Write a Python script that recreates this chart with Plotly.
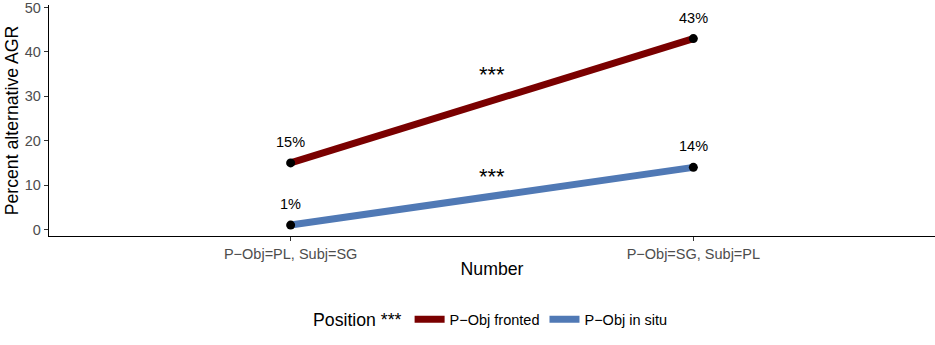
import plotly.graph_objects as go

categories = ["P\u2212Obj=PL, Subj=SG", "P\u2212Obj=SG, Subj=PL"]
series_names = ["P\u2212Obj fronted", "P\u2212Obj in situ"]
fronted = [15, 43]
in_situ = [1, 14]
fronted_labels = ["15%", "43%"]
in_situ_labels = ["1%", "14%"]
star_labels = ["***", "***"]
star_y = [35, 12]
y_ticks = [0, 10, 20, 30, 40, 50]

colors = ["#7A0000", "#5079B5"]
FONT = "Liberation Sans, Arial, Helvetica, sans-serif"

xpos = list(range(len(categories)))
series = [fronted, in_situ]
labels = [fronted_labels, in_situ_labels]

fig = go.Figure()
for name, vals, col in zip(series_names, series, colors):
    fig.add_trace(go.Scatter(x=xpos, y=vals, mode="lines", name=name,
                             line=dict(color=col, width=7)))
for vals in series:
    fig.add_trace(go.Scatter(x=xpos, y=vals, mode="markers", showlegend=False,
                             marker=dict(color="black", size=9)))

annotations = []
for vals, labs in zip(series, labels):
    for x, v, t in zip(xpos, vals, labs):
        annotations.append(dict(x=x, y=v, text=t, showarrow=False, xref="x", yref="y",
                                yanchor="middle", yshift=21,
                                font=dict(family=FONT, size=14.5, color="black")))
for sy, st in zip(star_y, star_labels):
    annotations.append(dict(x=(xpos[0] + xpos[1]) / 2, y=sy, text=st, showarrow=False,
                            xref="x", yref="y", yanchor="middle",
                            font=dict(family=FONT, size=22, color="black")))

fig.update_layout(
    width=935, height=345,
    margin=dict(l=49, r=0, t=5, b=108.5, autoexpand=False),
    paper_bgcolor="white", plot_bgcolor="white",
    font=dict(family=FONT, color="black"),
    annotations=annotations,
    showlegend=True,
    legend=dict(orientation="h", x=0.5, xanchor="center", y=-0.365, yanchor="middle",
                title=dict(text="Position ***", font=dict(size=17.7, family=FONT)),
                font=dict(size=14.5, family=FONT, color="black"),
                itemwidth=30, tracegroupgap=0),
)
fig.update_xaxes(range=[-0.6, 1.6], tickvals=xpos, ticktext=categories, automargin=False,
                 showgrid=False, zeroline=False, showline=True, linecolor="black", linewidth=1.3,
                 ticks="outside", ticklen=4, tickcolor="#333333", tickwidth=1.1,
                 tickfont=dict(size=14.5, color="#4D4D4D", family=FONT),
                 title=dict(text="Number", font=dict(size=17.7, family=FONT), standoff=2))
fig.update_yaxes(range=[-1.46, 50.56], tickvals=y_ticks, automargin=False,
                 ticklabeloverflow="allow",
                 showgrid=False, zeroline=False, showline=True, linecolor="black", linewidth=1.3,
                 ticks="outside", ticklen=4, tickcolor="#333333", tickwidth=1.1,
                 tickfont=dict(size=14.5, color="#4D4D4D", family=FONT),
                 title=dict(text="Percent alternative AGR", font=dict(size=17.7, family=FONT), standoff=1))

fig.write_html("out.html", config={"displayModeBar": False},
               post_script="document.body.style.margin='0px';")
